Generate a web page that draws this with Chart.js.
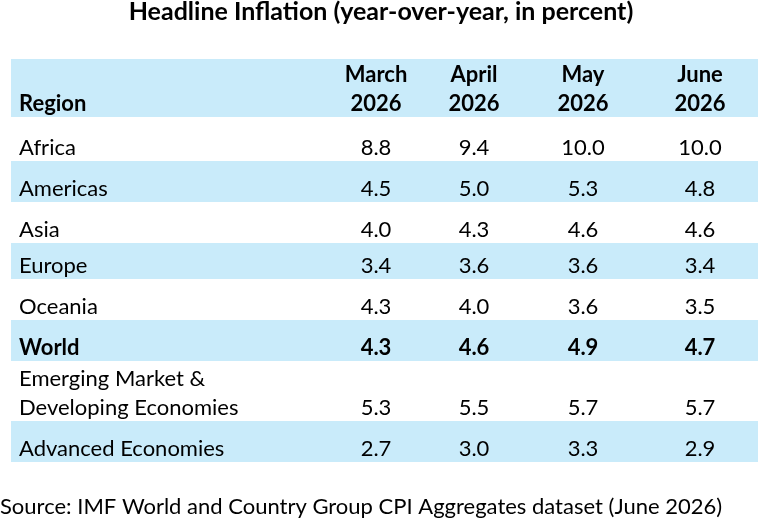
<!DOCTYPE html>
<html>
<head>
<meta charset="utf-8">
<title>Headline Inflation</title>
<script src="https://cdn.jsdelivr.net/npm/chart.js@4.4.1/dist/chart.umd.min.js"></script>
<style>
  html, body { margin: 0; padding: 0; background: #fff; }
  #wrap { width: 762px; height: 525px; position: relative; }
</style>
</head>
<body>
<div id="wrap"><canvas id="inflationTable"></canvas></div>
<script>
// Table content
const titleText = 'Headline Inflation (year-over-year, in percent)';
const sourceText = 'Source: IMF World and Country Group CPI Aggregates dataset (June 2026)';
const headerLabel = 'Region';
const months = [['March', '2026'], ['April', '2026'], ['May', '2026'], ['June', '2026']];
const regions = [
    ['Africa'],
    ['Americas'],
    ['Asia'],
    ['Europe'],
    ['Oceania'],
    ['World'],
    ['Emerging Market &', 'Developing Economies'],
    ['Advanced Economies']
];
const march = [8.8, 4.5, 4.0, 3.4, 4.3, 4.3, 5.3, 2.7];
const april = [9.4, 5.0, 4.3, 3.6, 4.0, 4.6, 5.5, 3.0];
const may   = [10.0, 5.3, 4.6, 3.6, 3.6, 4.9, 5.7, 3.3];
const june  = [10.0, 4.8, 4.6, 3.4, 3.5, 4.7, 5.7, 2.9];
const series = [march, april, may, june];

// Layout, in pixel units of the hidden scales
const rowBottoms = [58, 102, 143, 184, 220, 261, 302, 362, 403]; // header, then the 8 rows
const shaded = [true, false, true, false, true, false, true, false, true];
const boldRow = [true, false, false, false, false, false, true, false, false];
const colCenters = [376, 474, 583, 700];
const labelX = 19;
const tableLeft = 11, tableRight = 758;
const lineGap = 29;      // distance between wrapped lines
const textLift = 13.5;   // text centre above the row bottom
const bandColor = '#c9ebfa';
const fontFamily = 'Lato, "Open Sans", sans-serif';
const fontSize = 22;

const tablePlugin = {
    id: 'tablePlugin',
    beforeDatasetsDraw(chart) {
        const ctx = chart.ctx;
        const x = chart.scales.x, y = chart.scales.y;
        ctx.save();

        // shaded bands
        ctx.fillStyle = bandColor;
        rowBottoms.forEach((bottom, i) => {
            if (!shaded[i]) return;
            const top = i === 0 ? 0 : rowBottoms[i - 1];
            const x0 = x.getPixelForValue(tableLeft), x1 = x.getPixelForValue(tableRight);
            const y0 = y.getPixelForValue(top), y1 = y.getPixelForValue(bottom);
            ctx.fillRect(x0, y0, x1 - x0, y1 - y0);
        });

        ctx.fillStyle = '#000';
        ctx.textBaseline = 'middle';

        // writes lines so that the last one sits on the row's text line
        function cell(lines, xv, row, align) {
            ctx.font = (boldRow[row] ? 'bold ' : '') + fontSize + 'px ' + fontFamily;
            ctx.textAlign = align;
            const base = rowBottoms[row] - textLift;
            lines.forEach((txt, k) => {
                const yv = base - (lines.length - 1 - k) * lineGap;
                ctx.fillText(txt, x.getPixelForValue(xv), y.getPixelForValue(yv));
            });
        }

        // header row
        cell([headerLabel], labelX, 0, 'left');
        months.forEach((m, j) => cell(m, colCenters[j], 0, 'center'));

        // body rows
        regions.forEach((r, i) => {
            cell(r, labelX, i + 1, 'left');
            series.forEach((s, j) => cell([s[i].toFixed(1)], colCenters[j], i + 1, 'center'));
        });

        ctx.restore();
    }
};

const ctx = document.getElementById('inflationTable').getContext('2d');
new Chart(ctx, {
    type: 'scatter',
    data: { datasets: [] },
    options: {
        responsive: true,
        maintainAspectRatio: false,
        animation: false,
        layout: { padding: 0 },
        plugins: {
            legend: { display: false },
            tooltip: { enabled: false },
            title: {
                display: true,
                text: titleText,
                color: '#000',
                font: { family: fontFamily, size: 25, weight: 'bold', lineHeight: 1 },
                padding: { top: -1, bottom: 35 }
            },
            subtitle: {
                display: true,
                text: sourceText,
                position: 'bottom',
                align: 'start',
                color: '#000',
                font: { family: fontFamily, size: fontSize, weight: 'normal', lineHeight: 1.2 },
                padding: { top: 32, bottom: 4.6 }
            }
        },
        scales: {
            x: { type: 'linear', display: false, min: 0, max: 762 },
            y: { type: 'linear', display: false, min: 0, max: 403, reverse: true }
        }
    },
    plugins: [tablePlugin]
});
</script>
</body>
</html>
